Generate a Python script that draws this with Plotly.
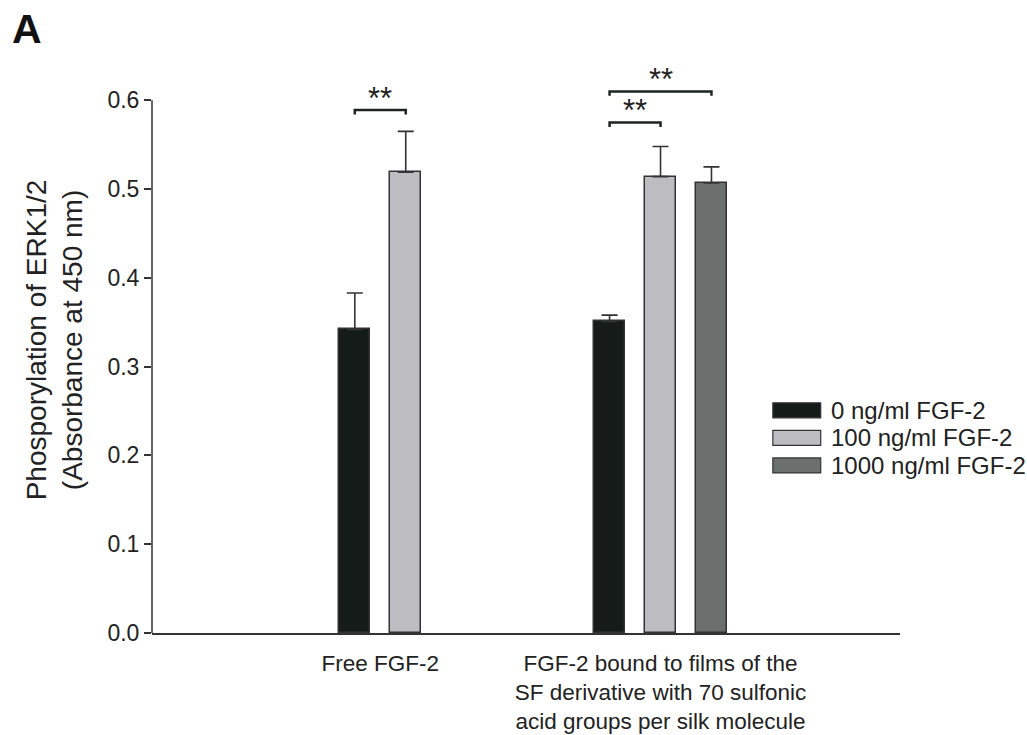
import plotly.graph_objects as go

# ERK1/2 phosphorylation (absorbance at 450 nm), mean and upper SD
groups = [
    "Free FGF-2",
    "FGF-2 bound to films of the<br>SF derivative with 70 sulfonic<br>acid groups per silk molecule",
]
series_names = ["0 ng/ml FGF-2", "100 ng/ml FGF-2", "1000 ng/ml FGF-2"]
means = [
    [0.342, 0.351],   # 0 ng/ml
    [0.519, 0.514],   # 100 ng/ml
    [None, 0.507],    # 1000 ng/ml (not measured for free FGF-2)
]
errors = [
    [0.041, 0.007],
    [0.046, 0.034],
    [None, 0.018],
]
y_ticks = [0.0, 0.1, 0.2, 0.3, 0.4, 0.5, 0.6]
y_tick_text = ["0.0", "0.1", "0.2", "0.3", "0.4", "0.5", "0.6"]

# significance brackets: (group, series a, series b, level, label)
brackets = [
    (0, 0, 1, 0.589, "**"),
    (1, 0, 1, 0.575, "**"),
    (1, 0, 2, 0.610, "**"),
]

colors = ["#151b19", "#bdbdc1", "#6b6f6e"]
edge = "#333333"
group_start = [0, 5]
bar_width = 0.61
font_family = "Liberation Sans, Arial, sans-serif"


def bar_x(g, s):
    return group_start[g] + s


fig = go.Figure()
for s, name in enumerate(series_names):
    xs, ys, es = [], [], []
    for g in range(len(groups)):
        if means[s][g] is None:
            continue
        xs.append(bar_x(g, s))
        ys.append(means[s][g])
        es.append(errors[s][g])
    fig.add_trace(go.Bar(
        x=xs, y=ys, name=name, width=bar_width,
        marker=dict(color=colors[s], line=dict(color=edge, width=1.5)),
        error_y=dict(type="data", symmetric=False, array=es,
                     arrayminus=[0] * len(es), color=edge,
                     thickness=1.6, width=8),
        showlegend=False,
    ))

# category label positions: centre of the bars present in each group
label_pos = []
for g in range(len(groups)):
    present = [bar_x(g, s) for s in range(len(series_names)) if means[s][g] is not None]
    label_pos.append(sum(present) / len(present))

shapes = []
annotations = []
for g, a, b, level, text in brackets:
    xa, xb = bar_x(g, a), bar_x(g, b)
    drop = 0.005
    fig.add_trace(go.Scatter(
        x=[xa, xa, xb, xb], y=[level - drop, level, level, level - drop],
        mode="lines", line=dict(color="#1e2422", width=2.5),
        showlegend=False, hoverinfo="skip",
    ))
    annotations.append(dict(
        x=(xa + xb) / 2, y=level, xref="x", yref="y", text=text,
        showarrow=False, yanchor="bottom", yshift=-8,
        font=dict(size=31, color="#222222", family=font_family),
    ))

# y-axis line stops at the top tick
shapes.append(dict(type="line", xref="paper", yref="y", x0=0, x1=0,
                   y0=0, y1=y_ticks[-1], line=dict(color=edge, width=1.5)))

# legend keys
leg_x0, leg_x1 = 0.830, 0.894
leg_rows = [0.380, 0.333, 0.286]
box_h = 0.0128
for s, name in enumerate(series_names):
    yc = leg_rows[s]
    shapes.append(dict(type="rect", xref="paper", yref="paper",
                       x0=leg_x0, x1=leg_x1, y0=yc - box_h, y1=yc + box_h,
                       fillcolor=colors[s], line=dict(color=edge, width=1.2)))
    annotations.append(dict(
        x=leg_x1 + 0.011, y=yc, xref="paper", yref="paper", text=name,
        showarrow=False, xanchor="left", yanchor="middle",
        font=dict(size=24, color="#222222", family=font_family),
    ))

# panel letter
annotations.append(dict(
    x=-142 / 748, y=(633 - 4) / 586, xref="paper", yref="paper",
    text="<b>A</b>", showarrow=False, xanchor="left", yanchor="top",
    font=dict(size=41, color="#111111", family=font_family),
))

fig.update_layout(
    width=1027, height=735,
    margin=dict(l=152, r=127, t=47, b=102, autoexpand=False),
    paper_bgcolor="white", plot_bgcolor="white",
    bargap=0, showlegend=False,
    shapes=shapes, annotations=annotations,
    font=dict(family=font_family, color="#222222"),
    xaxis=dict(
        range=[-3.98, 10.7], tickmode="array", tickvals=label_pos,
        ticktext=groups, ticks="", showgrid=False, zeroline=False,
        showline=True, linecolor=edge, linewidth=1.5, automargin=False,
        tickfont=dict(size=22.5, color="#222222"), ticklabelstandoff=9,
    ),
    yaxis=dict(
        range=[0, 0.66], tickmode="array", tickvals=y_ticks,
        ticktext=y_tick_text, ticks="outside", ticklen=7, automargin=False,
        tickcolor=edge, tickwidth=1.5, showgrid=False, zeroline=False,
        showline=False, tickfont=dict(size=23, color="#222222"),
        title=dict(text="Phosporylation of ERK1/2<br>(Absorbance at 450 nm)",
                   font=dict(size=28, color="#222222"), standoff=16),
    ),
)

fig.write_html("out.html")
